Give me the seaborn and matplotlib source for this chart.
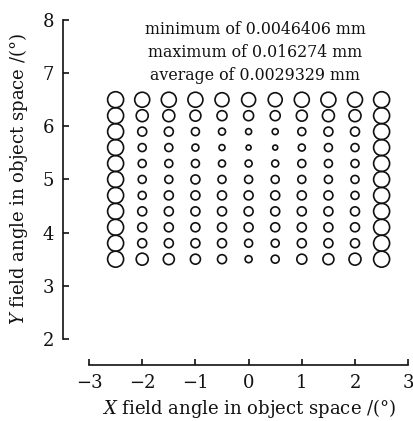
import numpy as np
import pandas as pd
import seaborn as sns
import matplotlib.pyplot as plt

# field grid (degrees)
x_field = [-2.5, -2.0, -1.5, -1.0, -0.5, 0.0, 0.5, 1.0, 1.5, 2.0, 2.5]
y_field = [6.5, 6.2, 5.9, 5.6, 5.3, 5.0, 4.7, 4.4, 4.1, 3.8, 3.5]

# spot diameters (relative units), one row per y field
spot_rows = [
    [16, 15, 15, 15, 14, 14, 14, 15, 15, 15, 16],
    [16, 12, 12, 11, 10, 10, 10, 11, 12, 12, 16],
    [16, 9, 9, 8, 7, 6, 6, 8, 9, 9, 16],
    [16, 8, 8, 7, 6, 5, 5, 7, 8, 8, 16],
    [16, 8, 8, 8, 7, 7, 7, 8, 8, 8, 16],
    [16, 8, 8, 9, 8, 8, 8, 8, 8, 8, 16],
    [16, 8, 9, 9, 9, 9, 9, 9, 9, 8, 16],
    [16, 9, 9, 9, 9, 9, 9, 9, 9, 9, 16],
    [16, 9, 9, 9, 9, 9, 9, 9, 9, 9, 16],
    [16, 9, 9, 9, 9, 8, 8, 9, 9, 9, 16],
    [16, 12, 11, 10, 9, 7, 8, 10, 11, 12, 16],
]

summary = ['minimum of 0.0046406 mm',
           'maximum of 0.016274 mm',
           'average of 0.0029329 mm']

rows = []
for yi, row in zip(y_field, spot_rows):
    for xi, d in zip(x_field, row):
        rows.append({'x': xi, 'y': yi, 'area': d ** 2})
df = pd.DataFrame(rows)

sns.set_theme(style='ticks')
plt.rcParams['font.family'] = ['DejaVu Serif']
plt.rcParams['mathtext.fontset'] = 'dejavuserif'

dpi = 100
fig = plt.figure(figsize=(4.14, 4.21), dpi=dpi)
ax = fig.add_axes([0.215, 0.195, 0.771, 0.7575])

# 1 px diameter -> points
px = 72 / dpi
amin, amax = df['area'].min(), df['area'].max()
sns.scatterplot(data=df, x='x', y='y', size='area',
                sizes=(amin * px ** 2, amax * px ** 2), size_norm=(amin, amax),
                marker='o', facecolors='none', edgecolor='#111111',
                linewidth=1.2, legend=False, ax=ax)

ax.set_xlim(-3, 3)
ax.set_ylim(2, 8)
ax.set_xticks(range(-3, 4))
ax.set_yticks(range(2, 9))
ax.set_xticklabels(['\u22123', '\u22122', '\u22121', '0', '1', '2', '3'])

for side in ['top', 'right']:
    ax.spines[side].set_visible(False)
ax.spines['left'].set_position(('outward', 19))
ax.spines['bottom'].set_position(('outward', 19))
for side in ['left', 'bottom']:
    ax.spines[side].set_linewidth(1.2)
    ax.spines[side].set_color('#111111')

ax.tick_params(direction='in', length=4, width=1.2, labelsize=13,
               colors='#111111', pad=6)

ax.set_xlabel('$X$ field angle in object space /(\u00b0)', fontsize=13,
              color='#111111', labelpad=4)
ax.set_ylabel('$Y$ field angle in object space /(\u00b0)', fontsize=13,
              color='#111111', labelpad=9)

ax.text(0.12, 7.98, '\n'.join(summary), ha='center', va='top',
        fontsize=11.4, color='#111111', linespacing=1.45)

fig.savefig('out.png', dpi=dpi)
